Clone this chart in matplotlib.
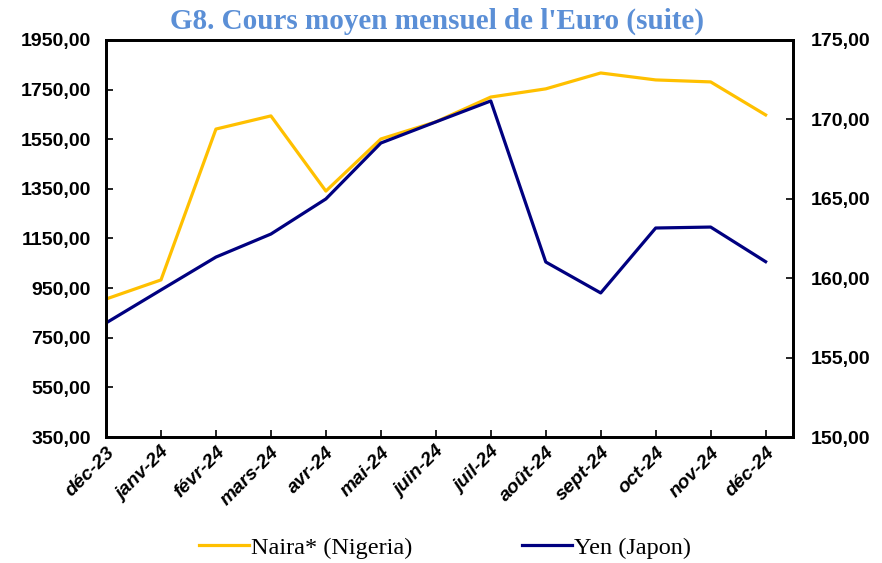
import matplotlib.pyplot as plt

# data
months = ['déc-23', 'janv-24', 'févr-24', 'mars-24', 'avr-24', 'mai-24', 'juin-24',
          'juil-24', 'août-24', 'sept-24', 'oct-24', 'nov-24', 'déc-24']
naira = [906, 983, 1591, 1644, 1341, 1551, 1620, 1720, 1753, 1817, 1789, 1781, 1648]
yen = [157.18, 159.26, 161.33, 162.78, 164.99, 168.51, 169.84, 171.16,
       161.02, 159.07, 163.16, 163.22, 161.04]

left_ticks = [350, 550, 750, 950, 1150, 1350, 1550, 1750, 1950]
left_labels = ['350,00', '550,00', '750,00', '950,00', '1150,00', '1350,00',
               '1550,00', '1750,00', '1950,00']
right_ticks = [150, 155, 160, 165, 170, 175]
right_labels = ['150,00', '155,00', '160,00', '165,00', '170,00', '175,00']

yellow = '#FFC000'
navy = '#000080'

fig = plt.figure(figsize=(8.82, 5.63), dpi=100)
ax = fig.add_axes([0.1202, 0.2238, 0.779, 0.7052])
ax2 = ax.twinx()

x = list(range(len(months)))
l1, = ax.plot(x, naira, color=yellow, lw=2.3, label='Naira* (Nigeria)')
l2, = ax2.plot(x, yen, color=navy, lw=2.3, label='Yen (Japon)')

ax.set_xlim(0, 12.5)
ax.set_ylim(350, 1950)
ax2.set_ylim(150, 175)

tick_font = dict(family='Liberation Sans', weight='bold', size=14)
ax.set_yticks(left_ticks)
ax.set_yticklabels(left_labels, **tick_font)
ax2.set_yticks(right_ticks)
ax2.set_yticklabels(right_labels, **tick_font)
ax.set_xticks(x)
ax.set_xticklabels(months, rotation=45, ha='right', rotation_mode='anchor',
                   family='Liberation Sans', weight='bold', style='italic', size=14)

ax.tick_params(axis='y', direction='in', length=5, width=1.2, pad=11)
ax.tick_params(axis='x', direction='in', length=5, width=1.2, pad=5)
ax2.tick_params(axis='y', direction='in', length=5, width=1.2, pad=13)
for a in (ax, ax2):
    for s in a.spines.values():
        s.set_linewidth(2)
        s.set_color('black')

fig.text(0.4955, 0.962, "G8. Cours moyen mensuel de l'Euro (suite)", ha='center', va='center',
         family='Liberation Serif', weight='bold', size=21, color='#5B8FD6')

fig.legend(handles=[l1, l2], loc='center', bbox_to_anchor=(0.5045, 0.027), ncol=2,
           frameon=False, prop={'family': 'Liberation Serif', 'size': 17.5},
           handlelength=2.05, handletextpad=0.1, columnspacing=4.5)

fig.savefig('out.png', dpi=100)
